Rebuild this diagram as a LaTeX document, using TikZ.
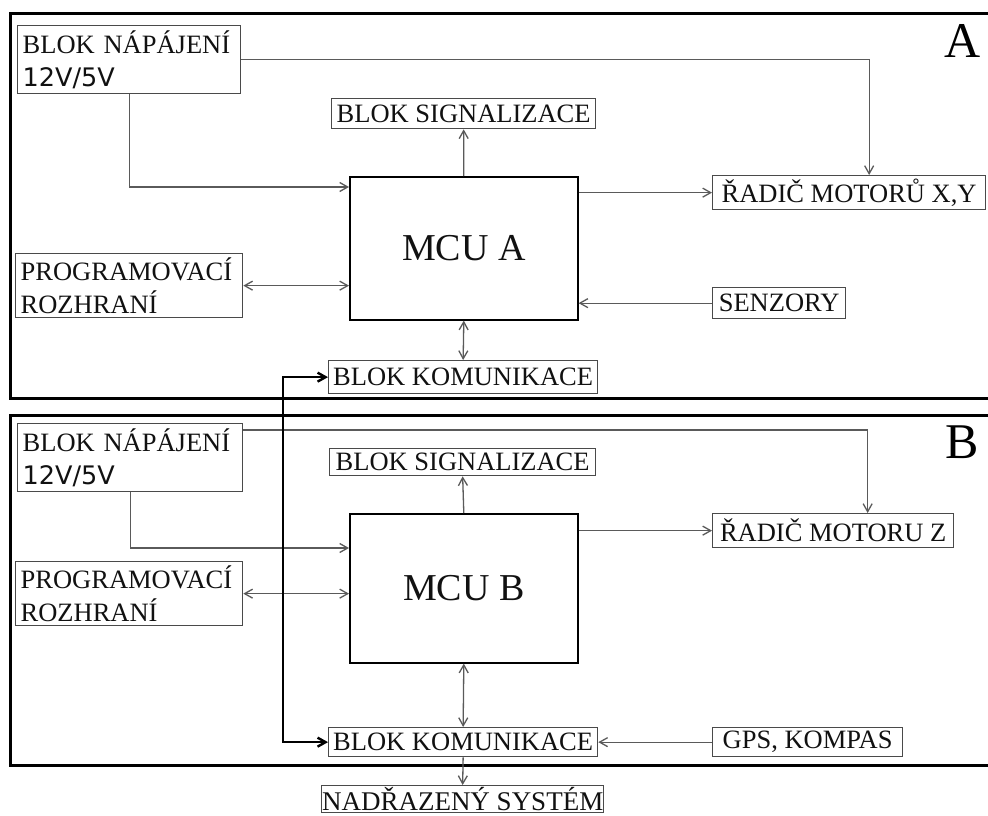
\documentclass[tikz,border=0pt]{standalone}
\usepackage{fontspec}
\setmainfont{Liberation Serif}
\newfontfamily\sansf{DejaVu Sans}
\usetikzlibrary{arrows.meta}
\definecolor{linegray}{HTML}{5A5A5A}
\definecolor{boxgray}{HTML}{4A4A4A}
\definecolor{txt}{HTML}{111111}
\tikzset{
  box/.style={draw=boxgray, line width=1.3bp, rectangle, anchor=north west, inner sep=0pt,
    text=txt, font=\fontsize{26.5bp}{33bp}\selectfont, align=center},
  twobox/.style={box, align=left, inner xsep=5bp, inner ysep=0pt},
  mcubox/.style={box, line width=1.6bp, draw=black, font=\fontsize{38bp}{40bp}\selectfont},
  frame/.style={draw=black, line width=3bp},
  conn/.style={draw=linegray, line width=1.3bp},
  arr/.style={conn, -{Straight Barb[length=8bp,width=9bp]}},
  darr/.style={conn, {Straight Barb[length=8bp,width=9bp]}-{Straight Barb[length=8bp,width=9bp]}},
  tharr/.style={draw=black, line width=2.4bp, {Straight Barb[length=8bp,width=9bp]}-{Straight Barb[length=8bp,width=9bp]}},
  biglabel/.style={font=\fontsize{50bp}{50bp}\selectfont, text=black, inner sep=0pt}
}
\begin{document}
\begin{tikzpicture}[x=1bp,y=-1bp]
\useasboundingbox (0,0) rectangle (988,816);
\fill[white] (0,0) rectangle (988,816);
% frames
\draw[frame] (992,14) -- (10,14) -- (10,398) -- (992,398);
\draw[frame] (992,415) -- (10,415) -- (10,765) -- (992,765);
\node[biglabel] (labA) at (963,41) {A};
\node[biglabel] (labB) at (962,442) {B};
% block A
\node[twobox, text width=213bp, minimum height=68bp] (napA) at (17,25) {BLOK NÁPÁJENÍ\\{\sansf\fontsize{25.5bp}{33bp}\selectfont 12V/5V}};
\node[box, minimum width=264bp, minimum height=30bp] (sigA) at (331,98) {BLOK SIGNALIZACE};
\node[mcubox, minimum width=228bp, minimum height=143bp] (mcuA) at (349,176) {MCU A};
\node[box, minimum width=273bp, minimum height=34bp] (radA) at (712,175) {ŘADIČ MOTORŮ X,Y};
\node[twobox, text width=217bp, minimum height=64bp] (progA) at (15,253) {PROGRAMOVACÍ\\ROZHRANÍ};
\node[box, minimum width=133bp, minimum height=31bp] (senA) at (712,287) {SENZORY};
\node[box, minimum width=269bp, minimum height=33bp] (komA) at (328,360) {BLOK KOMUNIKACE};
% block B
\node[twobox, text width=215bp, minimum height=68bp] (napB) at (17,423) {BLOK NÁPÁJENÍ\\{\sansf\fontsize{25.5bp}{33bp}\selectfont 12V/5V}};
\node[box, minimum width=266bp, minimum height=27bp] (sigB) at (329,448) {BLOK SIGNALIZACE};
\node[mcubox, minimum width=228bp, minimum height=149bp] (mcuB) at (349,513) {MCU B};
\node[box, minimum width=241bp, minimum height=34bp] (radB) at (712,513) {ŘADIČ MOTORU Z};
\node[twobox, text width=217bp, minimum height=64bp] (progB) at (15,561) {PROGRAMOVACÍ\\ROZHRANÍ};
\node[box, minimum width=269bp, minimum height=29bp] (komB) at (328,727) {BLOK KOMUNIKACE};
\node[box, minimum width=190bp, minimum height=29bp] (gps) at (712,727) {GPS, KOMPAS};
\node[box, minimum width=282bp, minimum height=27bp, font=\fontsize{27bp}{33bp}\selectfont] (nad) at (321,785) {NADŘAZENÝ SYSTÉM};
% connectors A
\draw[arr] (napA.east) -| ([xshift=20bp]radA.north);
\draw[arr] (napA.south) |- ([yshift=-11bp]mcuA.north west);
\draw[arr] (mcuA.north) -- (sigA.south);
\draw[arr] (radA.west -| mcuA.east) -- (radA.west);
\draw[darr] (progA.east) -- (progA.east -| mcuA.west);
\draw[arr] (senA.west) -- (senA.west -| mcuA.east);
\draw[darr] (mcuA.south) -- (komA.north);
% connectors B
\draw[arr] ([yshift=-7bp]napB.north east) -| ([xshift=34.5bp]radB.north);
\draw[arr] (napB.south) |- ([yshift=-35bp]mcuB.north west);
\draw[arr] (mcuB.north) -- (sigB.south);
\draw[arr] (radB.west -| mcuB.east) -- (radB.west);
\draw[darr] (progB.east) -- (progB.east -| mcuB.west);
\draw[darr] (mcuB.south) -- (komB.north);
\draw[arr] (gps.west) -- (komB.east);
\draw[arr] (komB.south) -- (nad.north);
% link between communication blocks
\draw[tharr] (komA.west) -- ([xshift=-45bp]komA.west) |- (komB.west);
\end{tikzpicture}
\end{document}
